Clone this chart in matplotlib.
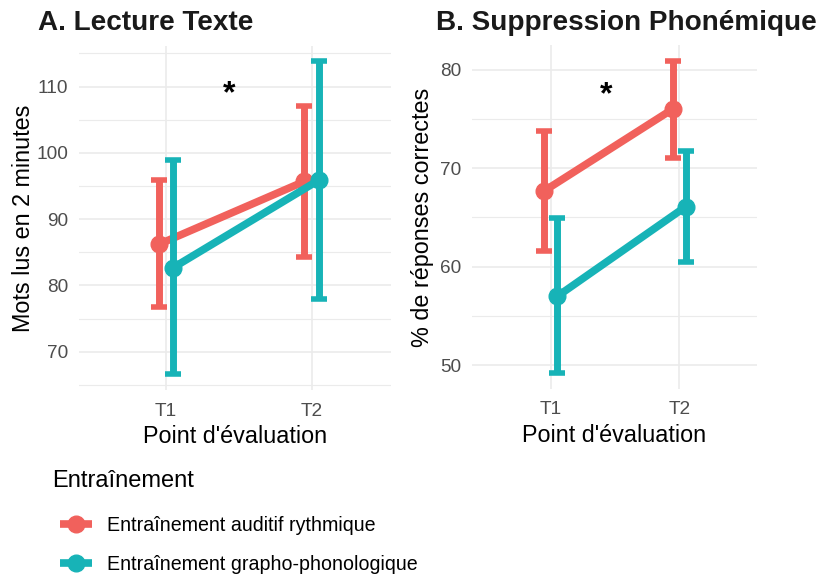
import matplotlib
matplotlib.use("Agg")
import matplotlib.pyplot as plt
from matplotlib.lines import Line2D
import numpy as np

plt.rcParams['font.family'] = ['Liberation Sans', 'DejaVu Sans']

# ---- data ----
timepoints = ["T1", "T2"]
groups = ["Entraînement auditif rythmique", "Entraînement grapho-phonologique"]
colors = ["#F1615C", "#17B3B7"]

# Panel A: Lecture Texte
lect_mean = [[86.2, 95.7], [82.7, 95.9]]
lect_lo = [[76.8, 84.3], [66.6, 77.9]]
lect_hi = [[95.9, 107.0], [98.9, 113.8]]

# Panel B: Suppression Phonémique
supp_mean = [[67.7, 76.0], [57.0, 66.1]]
supp_lo = [[61.6, 71.05], [49.2, 60.5]]
supp_hi = [[73.8, 80.9], [64.9, 71.7]]

star_pos_A = (1.43, 109.7)
star_pos_B = (1.43, 78.0)

fig = plt.figure(figsize=(8.21, 5.77), dpi=100)
W, H = 821, 577

def make_axes(x0, x1, y0, y1):
    return fig.add_axes([x0 / W, 1 - y1 / H, (x1 - x0) / W, (y1 - y0) / H])

axA = make_axes(79, 391, 45.7, 390)
axB = make_axes(472, 757, 45, 389)

def draw(ax, means, los, his, major, minor, xlim, ylabel, title, star, title_x, ylpad):
    x = np.arange(1, len(timepoints) + 1)
    offs = [-0.05, 0.05]
    for g in range(len(groups)):
        m = np.array(means[g]); lo = np.array(los[g]); hi = np.array(his[g])
        xs = x + offs[g]
        ax.errorbar(xs, m, yerr=[m - lo, hi - m], fmt='none', ecolor=colors[g],
                    elinewidth=5.0, capsize=5.5, capthick=4.0, zorder=3 + g * 2)
        ax.plot(xs, m, color=colors[g], lw=5.5, marker='o', markersize=12,
                solid_capstyle='butt', zorder=4 + g * 2)
    allv = np.concatenate([np.ravel(los), np.ravel(his)])
    lo_, hi_ = allv.min(), allv.max()
    pad = 0.05 * (hi_ - lo_)
    ax.set_ylim(lo_ - pad, hi_ + pad)
    ax.set_xlim(*xlim)
    ax.set_xticks(x)
    ax.set_xticklabels(timepoints)
    ax.set_yticks(major)
    ax.set_yticks(minor, minor=True)
    ax.grid(True, which='major', color='#EBEBEB', lw=1.2)
    ax.grid(True, which='minor', axis='y', color='#EBEBEB', lw=0.8)
    ax.set_axisbelow(True)
    for s in ax.spines.values():
        s.set_visible(False)
    ax.tick_params(which='both', length=0, labelsize=13.7, labelcolor='#4D4D4D')
    ax.tick_params(axis='y', pad=8)
    ax.tick_params(axis='x', pad=9)
    ax.set_xlabel("Point d'évaluation", fontsize=16.8, labelpad=4)
    ax.set_ylabel(ylabel, fontsize=16.8, labelpad=ylpad)
    ax.annotate('*', xy=star, xytext=(0, -10), textcoords='offset points',
                ha='center', va='baseline', fontsize=23, fontweight='bold', color='black')
    fig.text(title_x / W, 1 - 30 / H, title, fontsize=20.1, fontweight='bold',
             color='#1a1a1a', ha='left', va='baseline')

draw(axA, lect_mean, lect_lo, lect_hi, [70, 80, 90, 100, 110],
     [65, 75, 85, 95, 105, 115], (0.403, 2.544), "Mots lus en 2 minutes",
     "A. Lecture Texte", star_pos_A, 38, 1)
draw(axB, supp_mean, supp_lo, supp_hi, [50, 60, 70, 80],
     [55, 65, 75], (0.388, 2.604), "% de réponses correctes",
     "B. Suppression Phonémique", star_pos_B, 436, 4)

# legend
fig.text(52 / W, 1 - 481 / H, "Entraînement", fontsize=17, ha='left', va='center')
handles = [Line2D([0], [0], color=c, lw=5.5, marker='o', markersize=12,
                  solid_capstyle='butt') for c in colors]
fig.legend(handles, groups, loc='upper left', bbox_to_anchor=(60 / W, 1 - 516 / H),
           frameon=False, fontsize=14.1, borderpad=0, borderaxespad=0,
           handlelength=1.63, handletextpad=0.77, labelspacing=1.02, numpoints=1)

fig.savefig("out.png", dpi=100)
